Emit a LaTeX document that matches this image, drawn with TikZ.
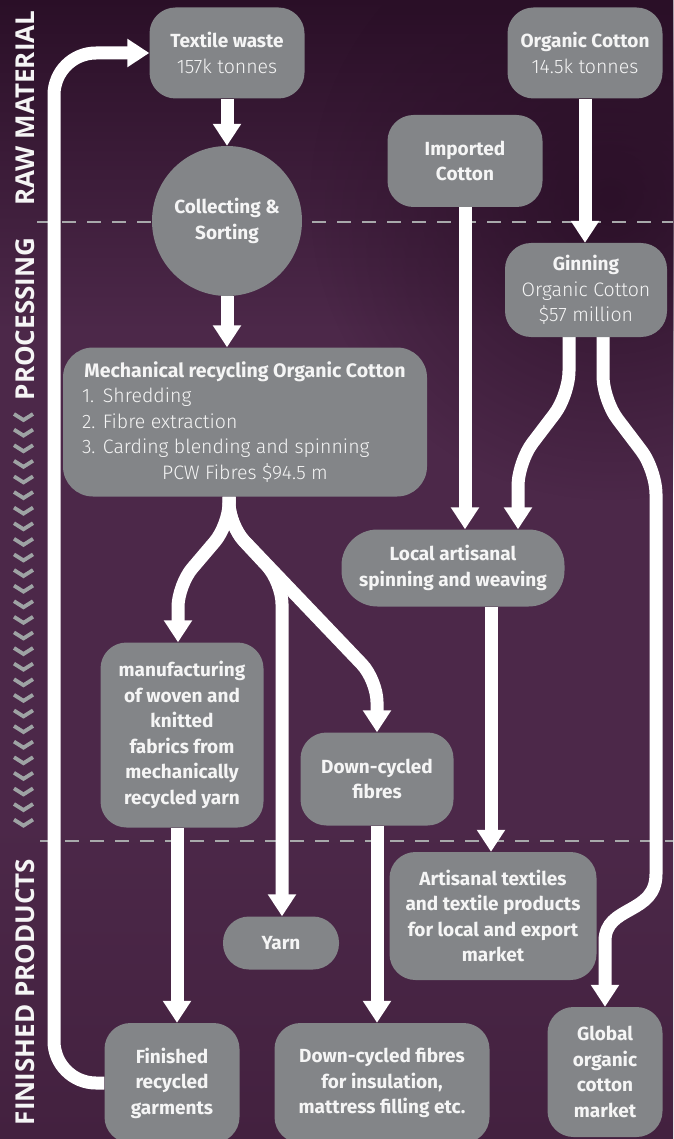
\documentclass[tikz,border=0pt]{standalone}
\usepackage{fontspec}
\setmainfont{Fira Sans}
\IfFontExistsTF{Fira Sans Light}{\newfontfamily\flt{Fira Sans Light}}{\newcommand\flt{\normalfont}}
\newfontfamily\fside{Open Sans}
\newcommand\lite{\flt\mdseries\fontsize{19.5}{25.5}\selectfont}
\usetikzlibrary{arrows.meta,fadings}
\tikzfading[name=myfade, inner color=transparent!0, outer color=transparent!100]
\definecolor{bgtop}{HTML}{2A0F27}
\definecolor{bgmid}{HTML}{4C2849}
\definecolor{bgbot}{HTML}{43213F}
\definecolor{boxgrey}{HTML}{838588}
\definecolor{dashgrey}{HTML}{A8A9AB}
\definecolor{chevgrey}{HTML}{9EA3A4}
\definecolor{txt}{HTML}{F5F5F5}
\pgfdeclarelayer{bg}
\pgfdeclarelayer{arr}
\pgfsetlayers{bg,arr,main}
\begin{document}
\begin{tikzpicture}[x=1pt,y=-1pt,
  box/.style={fill=boxgrey, text=txt, rounded corners=26pt, inner sep=0pt, align=center,
    font=\bfseries\fontsize{19}{25.5}\selectfont},
  roundbox/.style={fill=boxgrey, text=txt, circle, inner sep=0pt, align=center,
    font=\bfseries\fontsize{19}{25.5}\selectfont},
  flow/.style={draw=white, line width=13pt, -{Triangle[width=27pt,length=22pt]}},
  dashline/.style={draw=dashgrey, line width=2.2pt, dash pattern=on 14pt off 11pt},
  chev/.style={draw=chevgrey, line width=3.8pt, miter limit=10},
  side/.style={text=txt, inner sep=0pt, font=\fside\bfseries\fontsize{26}{26}\selectfont}]
\useasboundingbox (0,0) rectangle (673,1139);
\begin{pgfonlayer}{bg}
  \fill[bgmid] (0,0) rectangle (673,1139);
  \shade[top color=bgtop, bottom color=bgmid] (0,0) rectangle (673,330);
  \shade[top color=bgmid, bottom color=bgbot] (0,820) rectangle (673,1139);
  \fill[bgtop, path fading=myfade, opacity=0.9] (610,200) circle[radius=300pt];
  \draw[dashline] (37,222) -- (673,222);
  \draw[dashline] (40,841) -- (673,841);
  \foreach \i in {0,...,26} {
    \draw[chev] (14,{414+\i*15.6}) -- (23.5,{420+\i*15.6}) -- (33,{414+\i*15.6});
  }
\end{pgfonlayer}

% side labels
\node[side, rotate=90] (rm) at (25,108) {RAW MATERIAL};
\node[side, rotate=90] (pr) at (25,319) {PROCESSING};
\node[side, rotate=90] (fp) at (25,992) {FINISHED PRODUCTS};

% nodes
\node[box, minimum width=155pt, minimum height=91pt] (tw) at (227,53) {Textile waste\\{\lite 157k tonnes}};
\node[box, minimum width=155pt, minimum height=91pt] (oc) at (585,53) {Organic Cotton\\{\lite 14.5k tonnes}};
\node[box, minimum width=155pt, minimum height=92pt] (ic) at (465,161) {Imported\\Cotton};
\node[roundbox, minimum size=150pt] (cs) at (227,221) {Collecting \&\\Sorting};
\node[box, minimum width=162pt, minimum height=94pt] (gin) at (586,290) {Ginning\\{\lite Organic Cotton}\\{\lite \$57 million}};
\node[box, minimum width=364pt, minimum height=149pt, rounded corners=30pt] (mech) at (245,422)
  {{\bfseries\fontsize{19.5}{25.5}\selectfont Mechanical recycling Organic Cotton}\\
   {\lite\makebox[326pt][l]{\makebox[21pt][l]{1.}Shredding}}\\
   {\lite\makebox[326pt][l]{\makebox[21pt][l]{2.}Fibre extraction}}\\
   {\lite\makebox[326pt][l]{\makebox[21pt][l]{3.}Carding blending and spinning}}\\
   {\lite PCW Fibres \$94.5 m}};
\node[box, minimum width=223pt, minimum height=77pt, rounded corners=36pt] (local) at (453,568) {Local artisanal\\spinning and weaving};
\node[box, minimum width=163pt, minimum height=185pt] (manu) at (182,735) {manufacturing\\of woven and\\knitted\\fabrics from\\mechanically\\recycled yarn};
\node[box, minimum width=153pt, minimum height=93pt] (dcf) at (377,779) {Down-cycled\\fibres};
\node[box, minimum width=207pt, minimum height=128pt] (art) at (493,916) {Artisanal textiles\\and textile products\\for local and export\\market};
\node[box, minimum width=116pt, minimum height=53pt] (yarn) at (281,943) {Yarn};
\node[box, minimum width=135pt, minimum height=120pt] (fin) at (172,1083) {Finished\\recycled\\garments};
\node[box, minimum width=215pt, minimum height=120pt] (ins) at (382,1083) {Down-cycled fibres\\for insulation,\\mattress filling etc.};
\node[box, minimum width=115pt, minimum height=130pt] (glob) at (605,1072) {Global\\organic\\cotton\\market};

% connectors
\begin{pgfonlayer}{arr}
  \draw[flow] (tw.south) -- (cs.north);
  \draw[flow] (cs.south) -- (cs.south |- mech.north);
  \draw[flow] (oc.south) -- (oc.south |- gin.north);
  \draw[flow] (ic.south) -- (ic.south |- local.north);
  \coordinate (ga) at ([xshift=-17pt]gin.south);
  \coordinate (ga1) at (569,395);
  \coordinate (ga2) at (518,462);
  \draw[flow, rounded corners=24pt] (ga) -- (ga1) -- (ga2) -- (ga2 |- local.north);
  \coordinate (gb) at ([xshift=17pt]gin.south);
  \coordinate (gb1) at (603,400);
  \coordinate (gb2) at (656,470);
  \coordinate (gb3) at (656,850);
  \coordinate (gb4) at (605,965);
  \draw[flow, rounded corners=24pt] (gb) -- (gb1) -- (gb2) -- (gb3) .. controls (656,915) and (605,905) .. (gb4) -- (gb4 |- glob.north);
  \coordinate (m0) at ([xshift=-16pt]mech.south);
  \coordinate (m1) at (229,525);
  \coordinate (ml) at (178,585);
  \coordinate (mm) at (282,582);
  \coordinate (mr) at (377,680);
  \draw[flow, rounded corners=22pt] (m0) -- (m1) -- (ml) -- (ml |- manu.north);
  \draw[flow, rounded corners=22pt] (m0) -- (m1) -- (mm) -- (mm |- yarn.north);
  \draw[flow, rounded corners=22pt] (m0) -- (m1) -- (mr) -- (mr |- dcf.north);
  \coordinate (mf) at ([xshift=-5pt]manu.south);
  \draw[flow] (mf) -- (mf |- fin.north);
  \draw[flow] (dcf.south) -- (dcf.south |- ins.north);
  \coordinate (la) at ([xshift=38pt]local.south);
  \draw[flow] (la) -- (la |- art.north);
  \coordinate (lb) at (54,1083);
  \coordinate (lt) at (54,53);
  \draw[flow, rounded corners=42pt] (fin.west) -- (lb) -- (lt) -- (tw.west);
\end{pgfonlayer}
\end{tikzpicture}
\end{document}
